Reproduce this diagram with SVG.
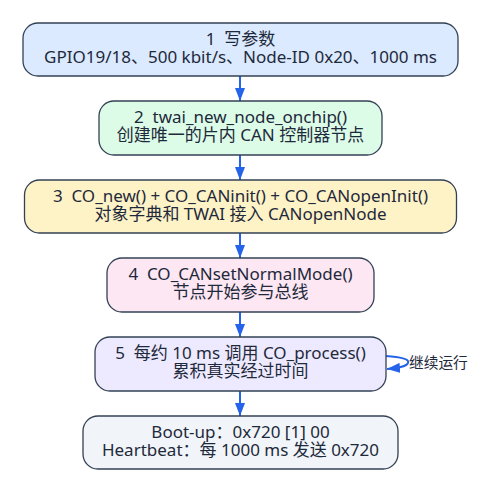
<svg xmlns="http://www.w3.org/2000/svg" width="494" height="492" viewBox="0 0 494 492">
<defs>
<marker id="ah" viewBox="0 0 13 10" refX="13" refY="5" markerWidth="13" markerHeight="10" markerUnits="userSpaceOnUse" orient="auto">
<path d="M0,0 L13,5 L0,10 z" fill="#2563eb"/>
</marker>
<style>
.box{stroke:#334155;stroke-width:1.3}
text{font-family:"Noto Sans","Noto Sans CJK SC",sans-serif;font-size:17px;fill:#1e293b;text-anchor:middle;white-space:pre}
.lbl{font-size:14.7px;text-anchor:start}
.edge{stroke:#2563eb;stroke-width:2;fill:none;marker-end:url(#ah)}
</style>
</defs>
<rect width="494" height="492" fill="#ffffff"/>
<g id="connectors">
<line class="edge" x1="240" y1="76" x2="240" y2="101"/>
<line class="edge" x1="240" y1="155" x2="240" y2="180"/>
<line class="edge" x1="240" y1="233" x2="240" y2="258"/>
<line class="edge" x1="240" y1="312" x2="240" y2="337"/>
<line class="edge" x1="240" y1="391" x2="240" y2="416"/>
<path class="edge" d="M386,356 C400,357 410,359 408,363 C406,367 398,368 387,369"/>
<text class="lbl" x="409" y="367.5">继续运行</text>
</g>
<g id="n1">
<rect class="box" x="23" y="23" width="435" height="53" rx="15" fill="#dbeafe"/>
<text x="240.5" y="44.5" xml:space="preserve">1  写参数</text>
<text x="240.5" y="62.8">GPIO19/18、500 kbit/s、Node-ID 0x20、1000 ms</text>
</g>
<g id="n2">
<rect class="box" x="99" y="101" width="283" height="54" rx="15" fill="#dcfce7"/>
<text x="240.5" y="123" xml:space="preserve">2  twai_new_node_onchip()</text>
<text x="240.5" y="141.3">创建唯一的片内 CAN 控制器节点</text>
</g>
<g id="n3">
<rect class="box" x="24.5" y="180" width="432" height="53" rx="15" fill="#fef3c7"/>
<text x="240.5" y="201.5" xml:space="preserve">3  CO_new() + CO_CANinit() + CO_CANopenInit()</text>
<text x="240.5" y="219.8">对象字典和 TWAI 接入 CANopenNode</text>
</g>
<g id="n4">
<rect class="box" x="107" y="258" width="267" height="54" rx="15" fill="#fce7f3"/>
<text x="240.5" y="280" xml:space="preserve">4  CO_CANsetNormalMode()</text>
<text x="240.5" y="298.3">节点开始参与总线</text>
</g>
<g id="n5">
<rect class="box" x="95" y="337" width="291" height="54" rx="15" fill="#ede9fe"/>
<text x="240.5" y="359" xml:space="preserve">5  每约 10 ms 调用 CO_process()</text>
<text x="240.5" y="377.3">累积真实经过时间</text>
</g>
<g id="n6">
<rect class="box" x="83" y="416" width="315" height="53" rx="15" fill="#f1f5f9"/>
<text x="240.5" y="437.5">Boot-up：0x720 [1] 00</text>
<text x="240.5" y="455.8">Heartbeat：每 1000 ms 发送 0x720</text>
</g>
</svg>
